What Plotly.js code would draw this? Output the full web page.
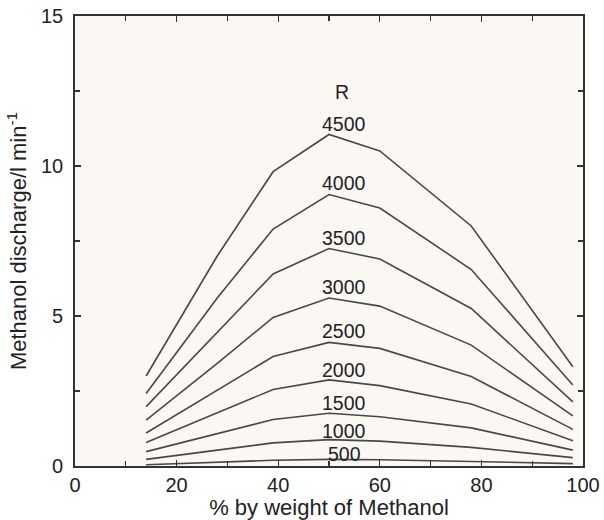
<!DOCTYPE html>
<html>
<head>
<meta charset="utf-8">
<script src="https://cdn.plot.ly/plotly-3.0.1.min.js"></script>
<style>html,body{margin:0;padding:0;background:#fff;}#chart{width:604px;height:520px;}</style>
</head>
<body>
<div id="chart"></div>
<script>
// % by weight of methanol
var xPct = [14, 28, 39, 50, 60, 78, 98];
// R values (labels)
var rLabels = ["4500", "4000", "3500", "3000", "2500", "2000", "1500", "1000", "500"];
// methanol discharge (l/min) for each R
var q4500 = [3.00, 7.00, 9.81, 11.05, 10.50, 8.00, 3.31];
var q4000 = [2.42, 5.60, 7.90, 9.05, 8.60, 6.55, 2.70];
var q3500 = [1.98, 4.45, 6.40, 7.25, 6.90, 5.25, 2.14];
var q3000 = [1.53, 3.42, 4.95, 5.60, 5.33, 4.03, 1.67];
var q2500 = [1.10, 2.52, 3.65, 4.12, 3.92, 2.98, 1.22];
var q2000 = [0.78, 1.76, 2.55, 2.87, 2.68, 2.07, 0.84];
var q1500 = [0.48, 1.08, 1.55, 1.76, 1.64, 1.27, 0.53];
var q1000 = [0.22, 0.53, 0.77, 0.88, 0.83, 0.62, 0.28];
var q500  = [0.04, 0.12, 0.19, 0.22, 0.21, 0.15, 0.08];
var series = [q4500, q4000, q3500, q3000, q2500, q2000, q1500, q1000, q500];

var lineColor = '#484848';
var traces = series.map(function(s, i){
  return {x: xPct, y: s, type: 'scatter', mode: 'lines', name: rLabels[i],
          line: {color: lineColor, width: 1.6}, hoverinfo: 'skip'};
});

var fam = 'Liberation Sans, Arial, sans-serif';
var labelFont = {family: fam, size: 19.5, color: '#222'};
var labelX = 53;
var labelShift = [11, 11.5, 11, 11, 11, 10, 10, 9, 5];
var annotations = series.map(function(s, i){
  return {x: labelX, y: Math.max.apply(null, s), xref: 'x', yref: 'y', text: rLabels[i],
          showarrow: false, yanchor: 'middle', xanchor: 'center', yshift: labelShift[i],
          borderpad: 0, font: labelFont};
});
annotations.push({x: labelX - 0.4, y: Math.max.apply(null, q4500), xref: 'x', yref: 'y', text: 'R',
  showarrow: false, yanchor: 'middle', xanchor: 'center', yshift: 43, borderpad: 0,
  font: labelFont});

var tickFont = {family: fam, size: 20, color: '#222'};
var titleFont = {family: fam, size: 22, color: '#222'};
var layout = {
  width: 604, height: 520,
  margin: {l: 75, r: 21, t: 16, b: 54},
  paper_bgcolor: '#ffffff',
  plot_bgcolor: '#fbf8f4',
  showlegend: false,
  font: tickFont,
  xaxis: {
    range: [0, 100], dtick: 20, tick0: 0,
    showgrid: false, zeroline: false,
    showline: true, linecolor: '#333', linewidth: 1.8, mirror: 'ticks',
    ticks: 'inside', ticklen: 6, tickwidth: 1.3, tickcolor: '#333',
    minor: {dtick: 10, ticks: 'inside', ticklen: 5, tickwidth: 1.3, tickcolor: '#333', showgrid: false},
    tickfont: tickFont,
    title: {text: '% by weight of Methanol', font: titleFont, standoff: 2}
  },
  yaxis: {
    range: [0, 15], dtick: 5, tick0: 0,
    showgrid: false, zeroline: false,
    showline: true, linecolor: '#333', linewidth: 1.8, mirror: 'ticks',
    ticks: 'inside', ticklen: 6, tickwidth: 1.3, tickcolor: '#333',
    minor: {dtick: 2.5, ticks: 'inside', ticklen: 5, tickwidth: 1.3, tickcolor: '#333', showgrid: false},
    tickfont: tickFont, ticklabelstandoff: 6,
    title: {text: 'Methanol discharge/l min<sup>-1</sup>', font: titleFont, standoff: 8}
  },
  annotations: annotations
};

Plotly.newPlot('chart', traces, layout, {displayModeBar: false, staticPlot: true});
</script>
</body>
</html>
